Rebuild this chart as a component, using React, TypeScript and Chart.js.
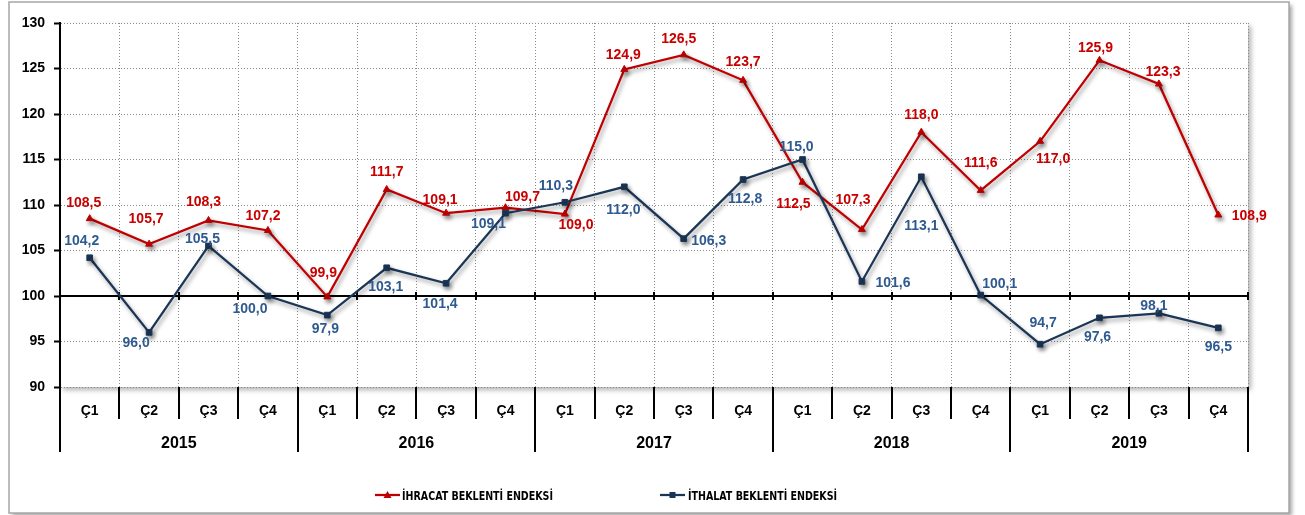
import React, { useEffect, useRef } from 'react';
import { Chart, registerables } from 'chart.js';

Chart.register(...registerables);

const years = ['2015', '2016', '2017', '2018', '2019'];
const quarters = ['Ç1', 'Ç2', 'Ç3', 'Ç4'];
const exportIndex = [108.5, 105.7, 108.3, 107.2, 99.9, 111.7, 109.1, 109.7, 109.0, 124.9, 126.5, 123.7, 112.5, 107.3, 118.0, 111.6, 117.0, 125.9, 123.3, 108.9];
const importIndex = [104.2, 96.0, 105.5, 100.0, 97.9, 103.1, 101.4, 109.1, 110.3, 112.0, 106.3, 112.8, 115.0, 101.6, 113.1, 100.1, 94.7, 97.6, 98.1, 96.5];
const yMin = 90;
const yMax = 130;
const yStep = 5;
const baseValue = 100;
const exportName = 'İHRACAT BEKLENTİ ENDEKSİ';
const importName = 'İTHALAT BEKLENTİ ENDEKSİ';

// label offsets (dx, dy) from each point, in pixels
const exportLabelOffsets = [[-6, -16], [-3, -25], [-5, -18], [-5, -14], [-4, -24], [0, -17], [-6, -13], [17, -11], [11, 11], [-1, -14], [-5, -16], [0, -18], [-9, 22], [-9, -29], [0, -17], [0, -27], [13, 18], [-4, -12], [4, -12], [31, 1]];
const importLabelOffsets = [[-8, -17], [-13, 11], [-6, -7], [-18, 13], [-2, 14], [-1, 19], [-6, 21], [-17, 11], [-9, -16], [-1, 23], [25, 2], [2, 20], [-6, -12], [31, 2], [0, 49], [19, -11], [3, -21], [-2, 19], [-5, -7], [0, 19]];

const RED = '#c00000';
const RED_TEXT = '#c80000';
const NAVY = '#1a3556';
const BLUE_TEXT = '#2f5a8f';
const GRID = '#8a8a8a';
const FONT = '"Liberation Sans", Arial, sans-serif';
const NARROW = '"Liberation Sans Narrow", "DejaVu Sans Condensed", "Liberation Sans", Arial, sans-serif';

const categoryLabels = years.flatMap((y) => quarters.map((q) => q));

const fmt = (v: number) => v.toFixed(1).replace('.', ',');

const decor = {
  id: 'decor',
  beforeDraw(chart: any) {
    const { ctx, chartArea: a } = chart;
    ctx.save();
    ctx.fillStyle = '#fff';
    ctx.fillRect(0, 0, chart.width, chart.height);
    // outer frame
    ctx.shadowColor = 'rgba(0,0,0,0.35)';
    ctx.shadowBlur = 4;
    ctx.shadowOffsetX = 3;
    ctx.shadowOffsetY = 3;
    ctx.fillRect(9, 2, 1280, 511);
    ctx.shadowColor = 'transparent';
    ctx.strokeStyle = '#a6a6a6';
    ctx.lineWidth = 1.5;
    ctx.strokeRect(9, 2, 1280, 511);
    // plot area shadow
    ctx.shadowColor = 'rgba(0,0,0,0.30)';
    ctx.shadowBlur = 5;
    ctx.shadowOffsetX = 3;
    ctx.shadowOffsetY = 3;
    ctx.fillStyle = '#fff';
    ctx.fillRect(a.left, a.top, a.right - a.left, a.bottom - a.top);
    ctx.restore();
  },
  beforeDatasetsDraw(chart: any) {
    const { ctx, chartArea: a, scales } = chart;
    const y = Math.round(scales.y.getPixelForValue(baseValue));
    const xs = scales.x;
    const n = exportIndex.length;
    const w = (a.right - a.left) / n;
    ctx.save();
    ctx.strokeStyle = '#000';
    ctx.lineWidth = 2;
    ctx.beginPath();
    ctx.moveTo(a.left, y);
    ctx.lineTo(a.right, y);
    ctx.stroke();
    for (let i = 0; i <= n; i++) {
      const bx = i < n ? xs.getPixelForValue(i) - w / 2 : xs.getPixelForValue(n - 1) + w / 2;
      ctx.beginPath();
      ctx.moveTo(Math.round(bx), y - 4);
      ctx.lineTo(Math.round(bx), y + 4);
      ctx.stroke();
    }
    ctx.restore();
  },
  beforeDatasetDraw(chart: any) {
    const { ctx } = chart;
    ctx.save();
    ctx.shadowColor = 'rgba(0,0,0,0.40)';
    ctx.shadowBlur = 4;
    ctx.shadowOffsetX = 2;
    ctx.shadowOffsetY = 3;
  },
  afterDatasetDraw(chart: any) {
    chart.ctx.restore();
  },
  afterDatasetsDraw(chart: any) {
    const { ctx } = chart;
    ctx.save();
    ctx.font = `bold 14px ${FONT}`;
    ctx.textAlign = 'center';
    ctx.textBaseline = 'middle';
    const sets = [
      { idx: 0, values: exportIndex, offs: exportLabelOffsets, color: RED_TEXT },
      { idx: 1, values: importIndex, offs: importLabelOffsets, color: BLUE_TEXT },
    ];
    for (const s of sets) {
      const meta = chart.getDatasetMeta(s.idx);
      ctx.fillStyle = s.color;
      meta.data.forEach((pt: any, i: number) => {
        const [dx, dy] = s.offs[i];
        ctx.fillText(fmt(s.values[i]), pt.x + dx, pt.y + dy);
      });
    }
    ctx.restore();
  },
  afterDraw(chart: any) {
    const { ctx, chartArea: a, scales } = chart;
    const xs = scales.x;
    const n = exportIndex.length;
    const w = (a.right - a.left) / n;
    ctx.save();
    ctx.strokeStyle = '#000';
    ctx.lineWidth = 2;
    // y axis extension through category area
    ctx.beginPath();
    ctx.moveTo(a.left, a.bottom);
    ctx.lineTo(a.left, a.bottom + 65);
    ctx.stroke();
    for (let i = 0; i <= n; i++) {
      const bx = Math.round(i < n ? xs.getPixelForValue(i) - w / 2 : xs.getPixelForValue(n - 1) + w / 2);
      const long = i % quarters.length === 0;
      ctx.beginPath();
      ctx.moveTo(bx, a.bottom);
      ctx.lineTo(bx, a.bottom + (long ? 65 : 32));
      ctx.stroke();
    }
    ctx.fillStyle = '#000';
    ctx.textAlign = 'center';
    ctx.textBaseline = 'alphabetic';
    ctx.font = `bold 14px ${FONT}`;
    categoryLabels.forEach((lab, i) => {
      ctx.fillText(lab, xs.getPixelForValue(i), a.bottom + 28);
    });
    ctx.font = `bold 16px ${FONT}`;
    years.forEach((yr, g) => {
      const first = g * quarters.length;
      const last = first + quarters.length - 1;
      const cx = (xs.getPixelForValue(first) + xs.getPixelForValue(last)) / 2;
      ctx.fillText(yr, cx, a.bottom + 61);
    });

    // legend
    const items = [
      { x0: 375, x1: 400, tx: 402, tw: 151, color: RED, style: 'triangle', text: exportName },
      { x0: 660, x1: 685, tx: 688, tw: 149, color: NAVY, style: 'rect', text: importName },
    ];
    const ly = 495;
    for (const it of items) {
      ctx.strokeStyle = it.color;
      ctx.fillStyle = it.color;
      ctx.lineWidth = 2.25;
      ctx.beginPath();
      ctx.moveTo(it.x0, ly);
      ctx.lineTo(it.x1, ly);
      ctx.stroke();
      const mx = (it.x0 + it.x1) / 2;
      ctx.beginPath();
      if (it.style === 'triangle') {
        ctx.moveTo(mx, ly - 4);
        ctx.lineTo(mx + 4, ly + 3);
        ctx.lineTo(mx - 4, ly + 3);
        ctx.closePath();
      } else {
        ctx.rect(mx - 3, ly - 3, 6, 6);
      }
      ctx.fill();
      ctx.fillStyle = '#000';
      ctx.font = `bold 12.5px ${NARROW}`;
      ctx.textAlign = 'left';
      const mw = ctx.measureText(it.text).width;
      const sx = mw > it.tw * 1.04 ? it.tw / mw : 1;
      ctx.save();
      ctx.translate(it.tx, ly + 4.5);
      ctx.scale(sx, 1);
      ctx.fillText(it.text, 0, 0);
      ctx.restore();
    }
    ctx.restore();
  },
};

export default function App() {
  const ref = useRef<HTMLCanvasElement>(null);
  useEffect(() => {
    if (!ref.current) return;
    const chart = new Chart(ref.current, {
      type: 'line',
      data: {
        labels: categoryLabels.map((q, i) => `${years[Math.floor(i / quarters.length)]} ${q}`),
        datasets: [
          {
            label: exportName,
            data: exportIndex,
            borderColor: RED,
            backgroundColor: RED,
            borderWidth: 2.25,
            pointStyle: 'triangle',
            pointRadius: 4,
            pointBorderWidth: 1,
            tension: 0,
            order: 1,
          },
          {
            label: importName,
            data: importIndex,
            borderColor: NAVY,
            backgroundColor: NAVY,
            borderWidth: 2.25,
            pointStyle: 'rect',
            pointRadius: 4,
            pointBorderWidth: 1,
            tension: 0,
            order: 0,
          },
        ],
      },
      options: {
        responsive: false,
        animation: false,
        devicePixelRatio: 1,
        events: [],
        layout: { padding: { left: 8, top: 23, right: 57, bottom: 128 } },
        plugins: { legend: { display: false }, tooltip: { enabled: false } },
        scales: {
          x: {
            type: 'category',
            offset: true,
            grid: { offset: true, color: GRID, lineWidth: 1, drawTicks: false },
            border: { display: false, dash: [1, 2] },
            ticks: { display: false },
            afterFit: (s: any) => { s.height = 0; },
          },
          y: {
            min: yMin,
            max: yMax,
            ticks: { stepSize: yStep, color: '#000', font: { family: FONT, size: 14, weight: 'bold' }, padding: 9 },
            grid: { color: GRID, lineWidth: 1, tickColor: '#000', tickWidth: 2, tickLength: 6, tickBorderDash: [] },
            border: { display: true, color: '#000', width: 2, dash: [1, 2] },
            afterFit: (s: any) => { s.width = 52; },
          },
        },
      } as any,
      plugins: [decor],
    });
    return () => chart.destroy();
  }, []);
  return (
    <div style={{ position: 'fixed', left: 0, top: 0, width: 1305, height: 515 }}>
      <canvas ref={ref} width={1305} height={515} style={{ display: 'block' }} />
    </div>
  );
}
